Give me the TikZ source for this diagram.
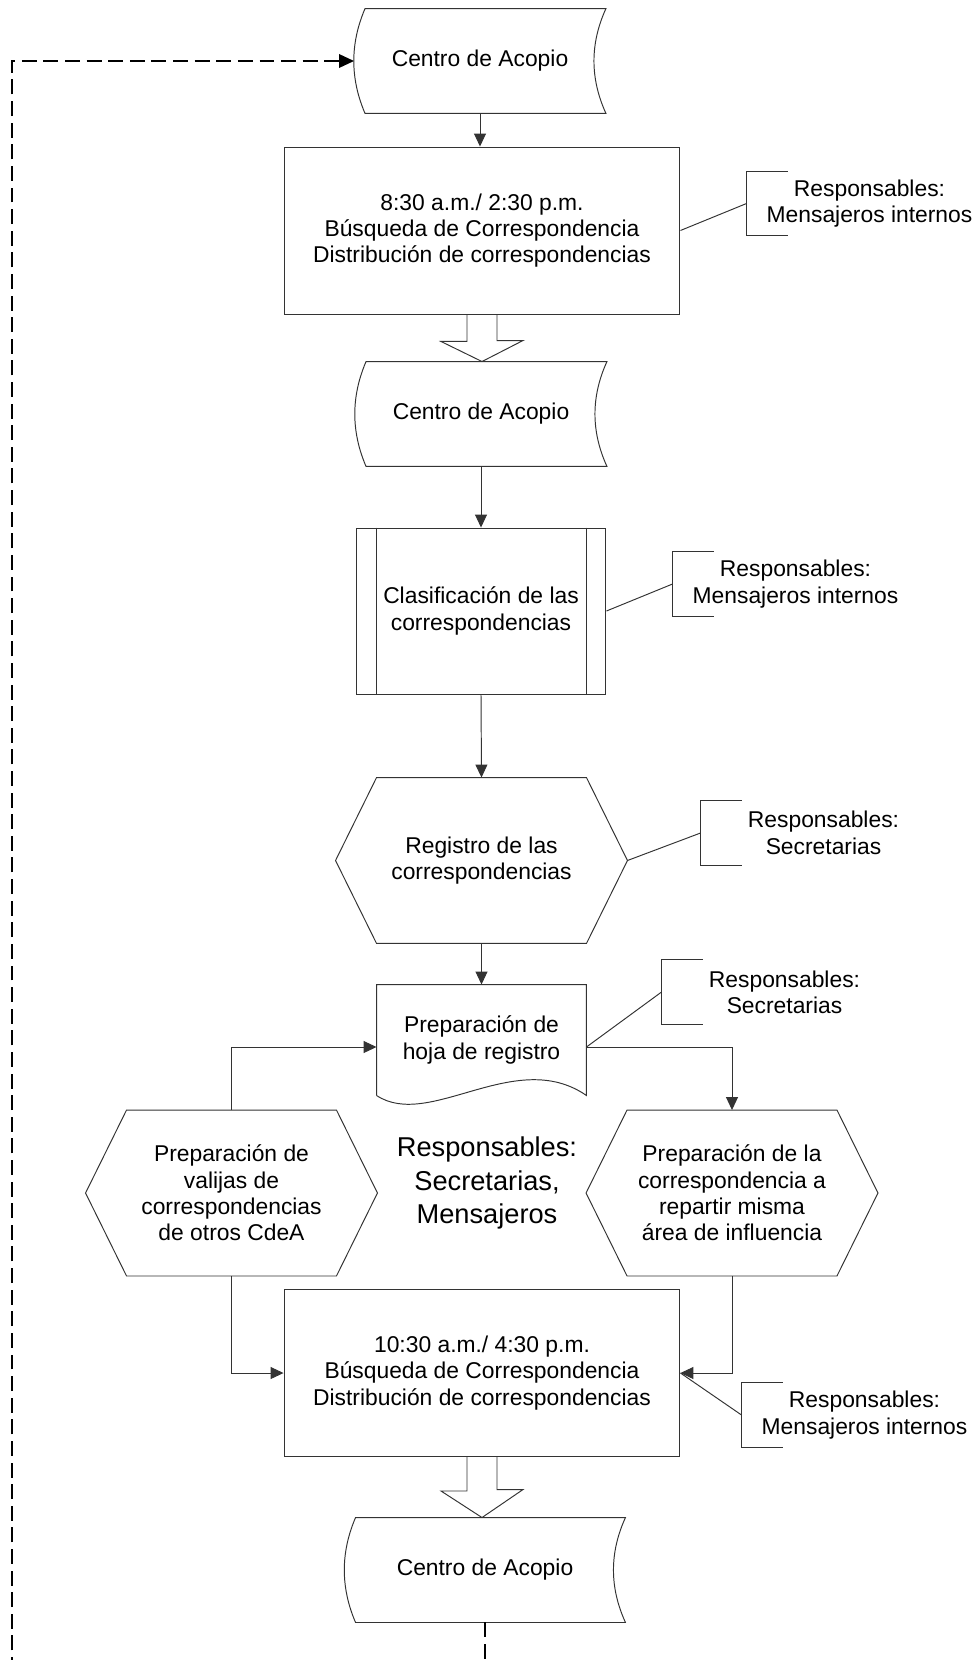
\documentclass[tikz,border=0pt]{standalone}
\usepackage{fontspec}
\setmainfont{Liberation Sans}
\usetikzlibrary{arrows.meta,calc}

\begin{document}
\begin{tikzpicture}[x=0.02cm, y=-0.02cm, line width=0.55pt, color=black!80, >={Triangle[length=0.26cm,width=0.24cm]}]
  \tikzstyle{txt}=[align=center, text=black, font=\fontsize{13}{15}\selectfont]
  \tikzstyle{acopio}=[txt, rectangle, minimum width=5.02cm, minimum height=2.08cm]
  \tikzstyle{proceso}=[txt, rectangle, draw, minimum width=7.92cm, minimum height=3.34cm]
  \tikzstyle{subproc}=[txt, rectangle, draw, minimum width=5cm, minimum height=3.32cm]
  \tikzstyle{hexa}=[txt, rectangle, minimum width=4.18cm, minimum height=3.3cm]
  \tikzstyle{hoja}=[txt, rectangle, minimum width=4.18cm, minimum height=2.2cm]
  \tikzstyle{nota}=[txt, rectangle, minimum width=4.9cm, minimum height=1.28cm]
  \tikzstyle{flecha}=[->]
  \tikzstyle{lazo}=[-{Triangle[length=0.3cm,width=0.27cm]}, black, line width=1.1pt, dash pattern=on 8.5pt off 3.8pt]

  \useasboundingbox (0,0) rectangle (976,1660);
  \clip (0,0) rectangle (976,1660);

  % Centros de acopio
  \node[acopio] (c1) at (480,61) {Centro de Acopio};
  \node[acopio] (c2) at (481,414) {Centro de Acopio};
  \node[acopio, minimum width=5.6cm] (c3) at (485,1570) {Centro de Acopio};
  \foreach \c in {c1,c2,c3}
    \draw ($(\c.north west)+(11,0)$) -- (\c.north east)
      .. controls ($(\c.north east)+(-16,35)$) and ($(\c.south east)+(-16,-35)$) .. (\c.south east)
      -- ($(\c.south west)+(11,0)$)
      .. controls ($(\c.south west)+(-4,-35)$) and ($(\c.north west)+(-4,35)$) .. ($(\c.north west)+(11,0)$) -- cycle;

  % Procesos
  \node[proceso] (p1) at (482,230.5) {8:30 a.m./ 2:30 p.m.\\Búsqueda de Correspondencia\\Distribución de correspondencias};
  \node[subproc] (cl) at (481,611) {Clasificación de las\\correspondencias};
  \draw ($(cl.north west)+(21,0)$) -- ($(cl.south west)+(21,0)$);
  \draw ($(cl.north east)+(-20,0)$) -- ($(cl.south east)+(-20,0)$);

  \node[hexa] (rg) at (481.5,860.5) {Registro de las\\correspondencias};
  \node[hexa] (hl) at (231.5,1193) {Preparación de\\valijas de\\correspondencias\\de otros CdeA};
  \node[hexa] (hr) at (732,1193) {Preparación de la\\correspondencia a\\repartir misma\\área de influencia};
  \foreach \h in {rg,hl,hr} {
    \draw (\h.north west) -- (\h.north east) -- ($(\h.east)+(41,0)$) -- (\h.south east)
      -- (\h.south west) -- ($(\h.west)+(-41,0)$) -- cycle;
    \coordinate (\h-e) at ($(\h.east)+(41,0)$);
  }

  % Hoja de registro
  \node[hoja] (hj) at (481.5,1040) {Preparación de\\hoja de registro};
  \draw (hj.south west) -- (hj.north west) -- (hj.north east) -- (hj.south east)
    .. controls ($(hj.south east)+(-71,-49)$) and ($(hj.south west)+(53,35)$) .. (hj.south west);

  \node[txt, font=\fontsize{15.5}{19}\selectfont] (rs) at (487,1183) {Responsables:\\Secretarias,\\Mensajeros};

  \node[proceso] (p2) at (482,1373) {10:30 a.m./ 4:30 p.m.\\Búsqueda de Correspondencia\\Distribución de correspondencias};

  % Responsables
  \node[nota] (n1) at (869.5,203.5) {Responsables:\\Mensajeros internos};
  \node[nota] (n2) at (795.5,584) {Responsables:\\Mensajeros internos};
  \node[nota] (n3) at (823.5,833) {Responsables:\\Secretarias};
  \node[nota] (n4) at (784.5,992) {Responsables:\\Secretarias};
  \node[nota] (n5) at (864.5,1415) {Responsables:\\Mensajeros internos};
  \foreach \n in {n1,n2,n3,n4,n5}
    \draw ($(\n.north west)+(41,0)$) -- (\n.north west) -- (\n.south west) -- ($(\n.south west)+(41,0)$);

  \draw (p1.east) -- (n1.west);
  \draw (cl.east) -- (n2.west);
  \draw (rg-e) -- (n3.west);
  \draw ([yshift=-0.14cm]hj.east) -- (n4.west);
  \draw (p2.east) -- (n5.west);

  % Flujo
  \draw[flecha] (c1.south) -- (c1.south |- p1.north);
  \draw[flecha] (c2.south) -- (cl.north);
  \draw[flecha] (cl.south) -- (rg.north);
  \draw[flecha] (rg.south) -- (hj.north);
  \draw[flecha] (hl.north) |- ([yshift=-0.14cm]hj.west);
  \draw[flecha] ([yshift=-0.14cm]hj.east) -| (hr.north);
  \draw[flecha] (hl.south) |- (p2.west);
  \draw[flecha] (hr.south) |- (p2.east);

  % Flechas huecas
  \draw ($(p1.south)+(-15,0)$) -- ++(0,27) -- ++(-26,0) -- (p1.south |- c2.north)
    -- ++(41,-21) -- ++(-26,0) -- ($(p1.south)+(15,0)$);
  \draw ($(p2.south)+(-15,0)$) -- ++(0,34) -- ++(-26,0) -- (p2.south |- c3.north)
    -- ++(41,-28) -- ++(-26,0) -- ($(p2.south)+(15,0)$);

  % Retorno
  \coordinate (vuelta) at (12,61);
  \draw[lazo] (c3.south) -- ++(0,80) -| (vuelta) -- (c1.west);
\end{tikzpicture}
\end{document}
